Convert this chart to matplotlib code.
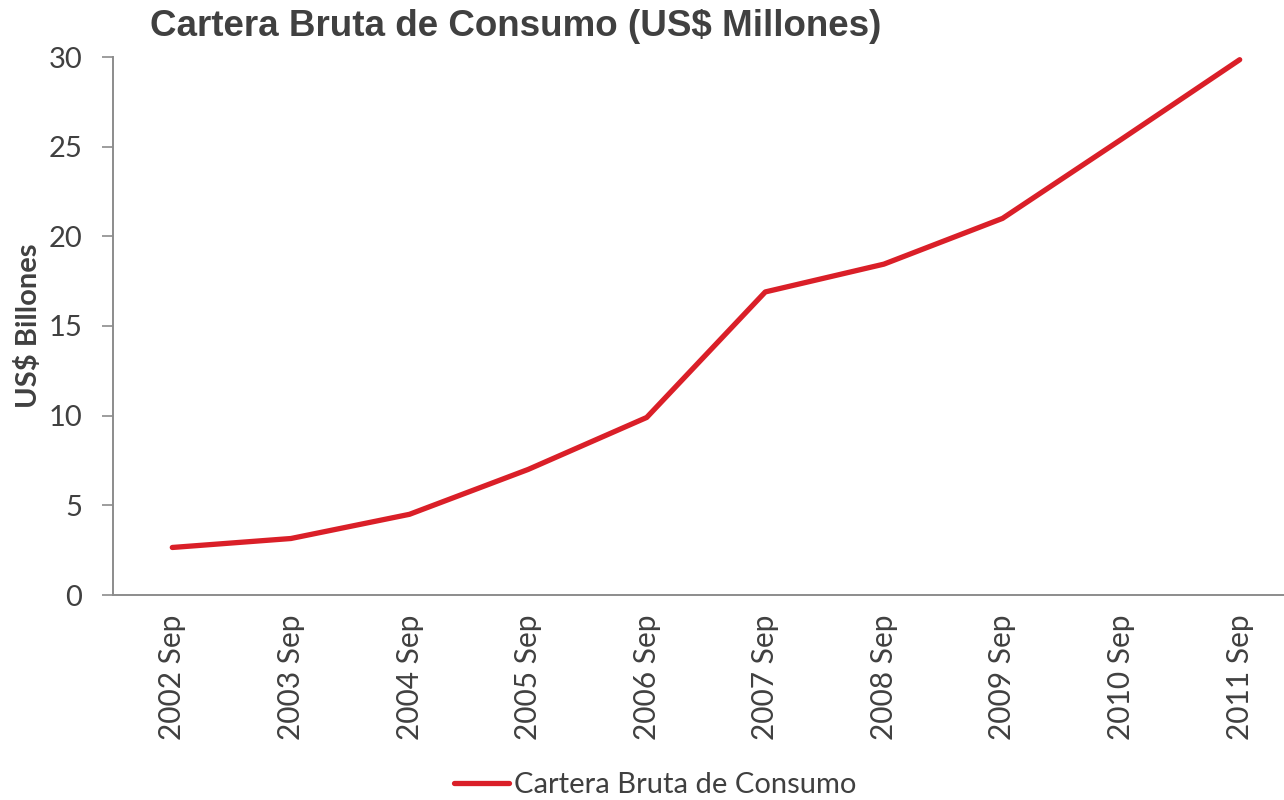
import numpy as np
import matplotlib
matplotlib.use("Agg")
import matplotlib.pyplot as plt

# ── Data ──────────────────────────────────────────────────────
periodos = ["2002 Sep", "2003 Sep", "2004 Sep", "2005 Sep", "2006 Sep",
            "2007 Sep", "2008 Sep", "2009 Sep", "2010 Sep", "2011 Sep"]
cartera = [2.65, 3.15, 4.5, 7.0, 9.9, 16.9, 18.45, 21.0, 25.4, 29.85]
yticks = [0, 5, 10, 15, 20, 25, 30]

ROJO = "#DA1F28"
GRIS = "#404040"
EJE = "#8C8C8C"

# ── Plot ──────────────────────────────────────────────────────
fig = plt.figure(figsize=(12.84, 8), dpi=100)
ax = fig.add_axes([113/1284, 1-595/800, 1186/1284, 538/800])

x = np.arange(len(periodos))
ax.plot(x, cartera, color=ROJO, lw=3.8, solid_capstyle="round",
        solid_joinstyle="round", label="Cartera Bruta de Consumo")

ax.set_xlim(-0.5, len(periodos) - 0.5)
ax.set_ylim(0, 30)
ax.set_yticks(yticks)
ax.set_xticks(x)
ax.set_xticklabels(periodos, rotation=90, fontfamily="Lato", fontsize=21.5, color=GRIS)
ax.set_yticklabels([str(v) for v in yticks], fontfamily="Lato", fontsize=21, color=GRIS)
ax.tick_params(axis="y", direction="out", length=8, width=1.2, color=EJE, pad=14)
ax.tick_params(axis="x", length=0, pad=14)

for s in ["top", "right"]:
    ax.spines[s].set_visible(False)
for s in ["left", "bottom"]:
    ax.spines[s].set_color(EJE)
    ax.spines[s].set_linewidth(1.4)

ax.set_ylabel("US$ Billones", fontfamily="Lato", fontweight="bold",
              fontsize=21, color=GRIS)
ax.yaxis.set_label_coords(-0.06, 0.5)

fig.text(150/1284, 1-26/800, "Cartera Bruta de Consumo (US$ Millones)",
         fontfamily="Liberation Sans", fontweight="bold", fontsize=26.5,
         color=GRIS, va="center", ha="left")

leg = fig.legend(loc="center", bbox_to_anchor=(655/1284, 1-785/800), frameon=False,
                 prop={"family": "Lato", "size": 21}, handlelength=1.9,
                 handletextpad=0.15)
for t in leg.get_texts():
    t.set_color(GRIS)

fig.savefig("out.png", dpi=100)
